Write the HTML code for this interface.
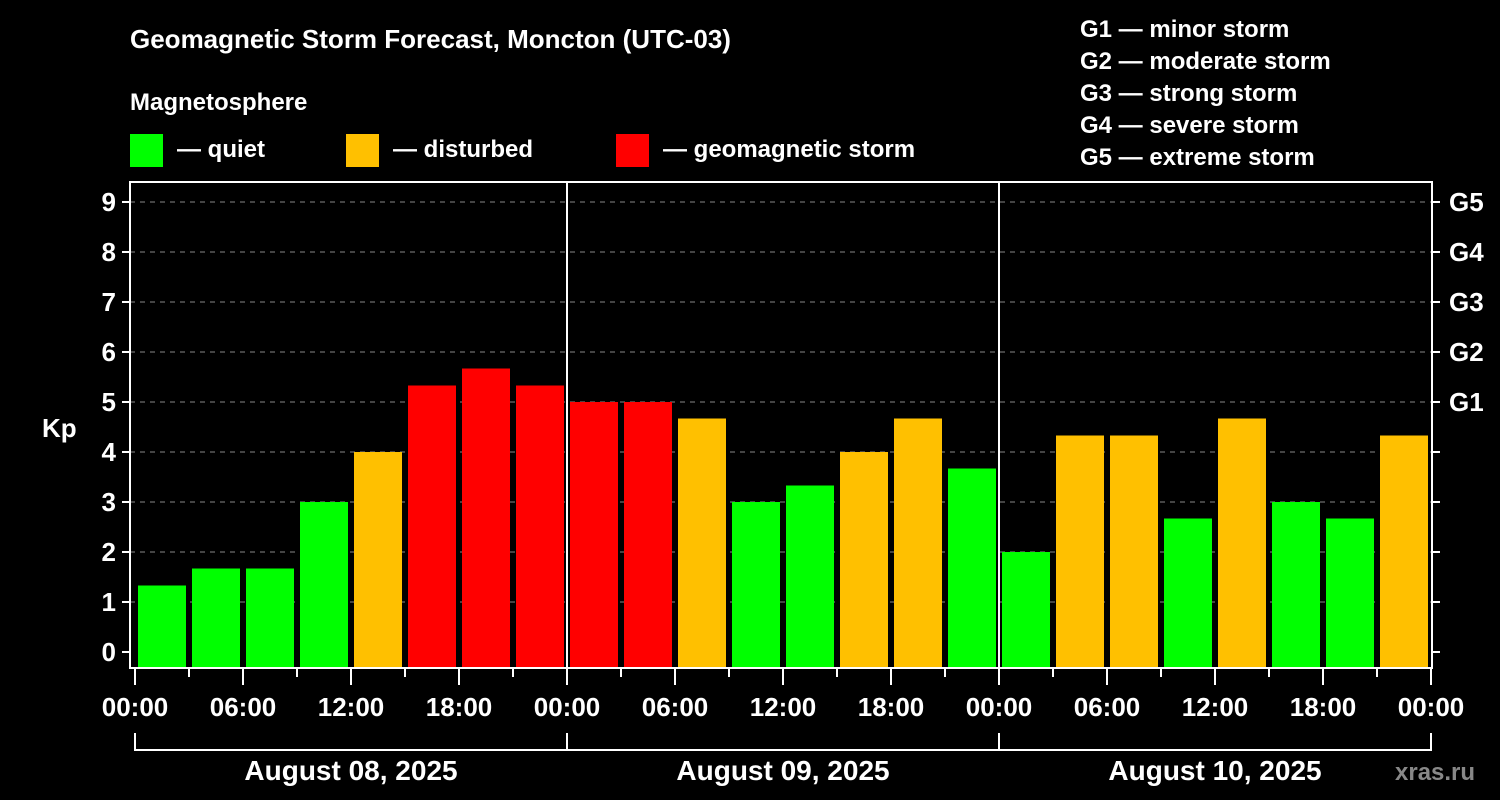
<!DOCTYPE html>
<html><head><meta charset="utf-8"><style>
body{margin:0;background:#000;}
svg{display:block;font-family:"Liberation Sans",Arial,sans-serif;font-weight:bold;}
</style></head><body>
<svg id="chart" width="1500" height="800" viewBox="0 0 1500 800">
<rect width="1500" height="800" fill="#000"/>
<text x="130" y="48" fill="#fff" font-size="26">Geomagnetic Storm Forecast, Moncton (UTC-03)</text>
<text x="130" y="110" fill="#fff" font-size="24">Magnetosphere</text>
<g><rect x="130" y="134" width="33" height="33" fill="#00ff00"/><text x="177" y="157" fill="#fff" font-size="24">— quiet</text></g>
<g><rect x="346" y="134" width="33" height="33" fill="#ffc000"/><text x="393" y="157" fill="#fff" font-size="24">— disturbed</text></g>
<g><rect x="616" y="134" width="33" height="33" fill="#ff0000"/><text x="663" y="157" fill="#fff" font-size="24">— geomagnetic storm</text></g>
<g fill="#fff" font-size="24">
<text x="1080" y="37">G1 — minor storm</text><text x="1080" y="69">G2 — moderate storm</text><text x="1080" y="101">G3 — strong storm</text><text x="1080" y="133">G4 — severe storm</text><text x="1080" y="165">G5 — extreme storm</text>
</g>
<text x="42" y="437" fill="#fff" font-size="26">Kp</text>
<text x="1395" y="780" fill="#888" font-size="24">xras.ru</text>
<g id="grid"></g><g id="bars"></g><g id="axes"></g>
</svg>
<script>
const kpValues=[1.33,1.67,1.67,3,4,5.33,5.67,5.33, 5,5,4.67,3,3.33,4,4.67,3.67, 2,4.33,4.33,2.67,4.67,3,2.67,4.33];
const dayLabels=["August 08, 2025","August 09, 2025","August 10, 2025"];
const hourLabels=["00:00","06:00","12:00","18:00"];
const yTicks=[0,1,2,3,4,5,6,7,8,9];
const gLabels=[[5,"G1"],[6,"G2"],[7,"G3"],[8,"G4"],[9,"G5"]];
const NS="http://www.w3.org/2000/svg";
const X0=135,SLOT=54,Y0=652,UNIT=50,L=130,R=1432,T=182,B=668;
const xs=i=>X0+i*SLOT, ys=v=>Y0-v*UNIT;
function mk(p,t,a){const e=document.createElementNS(NS,t);for(const k in a)e.setAttribute(k,a[k]);p.appendChild(e);return e;}
const grid=document.getElementById('grid'),bars=document.getElementById('bars'),axes=document.getElementById('axes');
yTicks.forEach(v=>{
 if(v>0){const g=mk(grid,'line',{x1:L,x2:R,y1:ys(v),y2:ys(v),stroke:'#888','stroke-dasharray':'5,5','stroke-width':1});
 
 }
 const t=mk(axes,'line',{x1:L-8,x2:L,y1:ys(v),y2:ys(v),stroke:'#fff','stroke-width':2});
 
 
 const t2=mk(axes,'line',{x1:R,x2:R+8,y1:ys(v),y2:ys(v),stroke:'#fff','stroke-width':2});
 
 
 const lb=mk(axes,'text',{x:L-14,y:ys(v)+9,fill:'#fff','font-size':26,'text-anchor':'end'});lb.textContent=v;
 
 
});
gLabels.forEach(([v,s])=>{const lb=mk(axes,'text',{x:R+17,y:ys(v)+9,fill:'#fff','font-size':26});lb.textContent=s;
 
 });
kpValues.forEach((v,i)=>{
 const c=v>=5?'#ff0000':(v>=4?'#ffc000':'#00ff00');
 const r=mk(bars,'rect',{x:xs(i)+3,y:ys(v),width:SLOT-6,height:B-ys(v),fill:c});
 
 
});
for(let d=1;d<dayLabels.length;d++){const l=mk(axes,'line',{x1:xs(d*8),x2:xs(d*8),y1:T,y2:B,stroke:'#fff','stroke-width':2});
 
 }
const fr=mk(axes,'rect',{x:L,y:T,width:R-L,height:B-T,fill:'none',stroke:'#fff','stroke-width':2});


for(let i=0;i<=kpValues.length;i++){
 const major=i%2==0;
 const t=mk(axes,'line',{x1:xs(i),x2:xs(i),y1:B,y2:B+(major?17:9),stroke:'#fff','stroke-width':2});
 
 
 if(major){const lb=mk(axes,'text',{x:xs(i),y:716,fill:'#fff','font-size':26,'text-anchor':'middle'});lb.textContent=hourLabels[(i/2)%4];
 
 }
}
dayLabels.forEach((s,d)=>{
 const a=xs(d*8),b=xs(d*8+8);
 const p=mk(axes,'path',{d:`M${a} 733V750H${b}`+(d==dayLabels.length-1?`V733`:''),stroke:'#fff','stroke-width':2,fill:'none'});
 
 
 const lb=mk(axes,'text',{x:(a+b)/2,y:780,fill:'#fff','font-size':28,'text-anchor':'middle'});lb.textContent=s;
 
 
});
</script>
</body></html>
